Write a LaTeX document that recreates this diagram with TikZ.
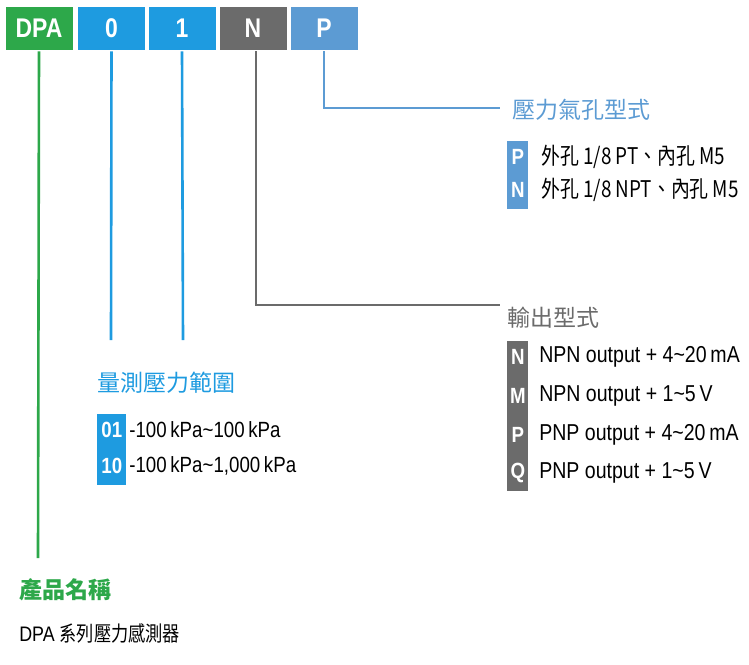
\documentclass[tikz,border=0pt]{standalone}
\usepackage{fontspec}
\setmainfont{Liberation Sans}[FakeStretch=0.85]
\newfontfamily\cjk{Noto Sans CJK TC}
\newfontfamily\cjkn{Noto Sans CJK TC}[FakeStretch=0.82]
\definecolor{codegreen}{HTML}{2DA84A}
\definecolor{codeblue}{HTML}{1E9BE0}
\definecolor{codegray}{HTML}{6B6B6B}
\definecolor{codesky}{HTML}{5C9BD3}
\begin{document}
\begin{tikzpicture}[x=1pt,y=-1pt, line width=2.6pt,
  box/.style={minimum width=67pt, minimum height=43pt, inner sep=0pt, text=white, font=\fontsize{27}{27}\selectfont\bfseries},
  band/.style={anchor=north west, minimum width=21pt, inner sep=0pt},
  tag/.style={inner sep=0pt, text=white, font=\fontsize{22}{22}\selectfont\bfseries},
  item/.style={anchor=west, inner sep=0pt, font=\fontsize{23}{23}\selectfont},
  head/.style={anchor=west, inner sep=0pt, font=\fontsize{23}{23}\selectfont\cjk}]
\useasboundingbox (0,0) rectangle (749,664);
% code boxes
\node [box, fill=codegreen] (DPA) at (39,28.5) {DPA};
\node [box, fill=codeblue] (Range0) at (111.5,28.5) {0};
\node [box, fill=codeblue] (Range1) at (182,28.5) {1};
\node [box, fill=codegray] (Out) at (253,28.5) {N};
\node [box, fill=codesky] (Port) at (324,28.5) {P};
% port type
\node [head, text=codesky] (PortHead) at (511,110) {壓力氣孔型式};
\node [band, fill=codesky, minimum height=68pt] (PortBand) at (506,140) {};
\node [tag] at (PortBand.center |- 0,157) {P};
\node [tag] at (PortBand.center |- 0,190) {N};
\node [item] at (540,157) {\cjkn{外孔} 1/8 PT\cjkn{、內孔} M5};
\node [item] at (540,190) {\cjkn{外孔} 1/8 NPT\cjkn{、內孔} M5};
% output type
\node [head, text=codegray] (OutHead) at (506,318) {輸出型式};
\node [band, fill=codegray, minimum height=150pt] (OutBand) at (506,340) {};
\node [tag] at (OutBand.center |- 0,357) {N};
\node [tag] at (OutBand.center |- 0,396) {M};
\node [tag] at (OutBand.center |- 0,435) {P};
\node [tag] at (OutBand.center |- 0,473) {Q};
\node [item] at (538,357) {NPN output + 4\textasciitilde20\,mA};
\node [item] at (538,396) {NPN output + 1\textasciitilde5\,V};
\node [item] at (538,435) {PNP output + 4\textasciitilde20\,mA};
\node [item] at (538,473) {PNP output + 1\textasciitilde5\,V};
% range
\node [head, text=codeblue] (RangeHead) at (96,383) {量測壓力範圍};
\node [band, fill=codeblue, minimum width=29pt, minimum height=71pt] (RangeBand) at (96,413) {};
\node [tag] at (RangeBand.center |- 0,430) {01};
\node [tag] at (RangeBand.center |- 0,466) {10};
\node [item, font=\fontsize{22}{22}\selectfont] at (128,430) {-100\,kPa\textasciitilde100\,kPa};
\node [item, font=\fontsize{22}{22}\selectfont] at (128,466) {-100\,kPa\textasciitilde1,000\,kPa};
% product name
\node [head, text=codegreen, font=\fontsize{23}{23}\selectfont\cjk\bfseries] (NameHead) at (18,590) {產品名稱};
\node [item, font=\fontsize{21}{21}\selectfont] at (18,633) {DPA \cjkn{系列壓力感測器}};
% leaders
\coordinate (PortEnd) at (500,108);
\coordinate (OutEnd) at (500,305);
\coordinate (RangeEnd0) at (111,340);
\coordinate (RangeEnd1) at (183,340);
\coordinate (NameEnd) at (38,558);
\draw [codegreen] (DPA.south) -- (NameEnd);
\draw [codeblue] (Range0.south) -- (RangeEnd0);
\draw [codeblue] (Range1.south) -- (RangeEnd1);
\draw [codegray] (Out.south -| 256,0) |- (OutEnd);
\draw [codesky] (Port.south) |- (PortEnd);
\end{tikzpicture}
\end{document}
